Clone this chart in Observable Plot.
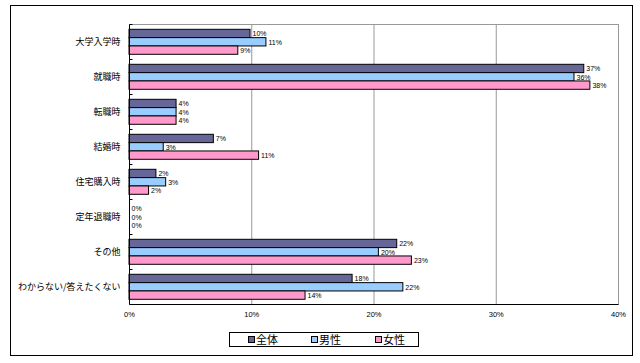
<!DOCTYPE html>
<html><head><meta charset="utf-8">
<script src="https://cdn.jsdelivr.net/npm/d3@7"></script>
<script src="https://cdn.jsdelivr.net/npm/@observablehq/plot@0.6"></script>
<style>
body{margin:0;background:#fff;}
#wrap{position:relative;width:640px;height:363px;font-family:"Noto Sans CJK JP","Noto Sans",sans-serif;}
#border{position:absolute;left:10px;top:5px;width:621px;height:349px;border:1px solid #000;}
#chart{position:absolute;left:0;top:0;}
#legend{position:absolute;left:229px;top:332px;width:188px;height:13px;border:1px solid #000;background:#fff;font-size:11px;line-height:13px;}
#legend .item{position:absolute;top:0;display:flex;align-items:center;height:13px;}
#legend .sw{width:5px;height:5px;border:1px solid #000;margin-right:1px;}
</style></head><body>
<div id="wrap"><div id="border"></div><div id="chart"></div><div id="legend"></div></div>
<script>
const categories = ["大学入学時","就職時","転職時","結婚時","住宅購入時","定年退職時","その他","わからない/答えたくない"];
const seriesNames = ["全体","男性","女性"];
const totalValues  = [9.9, 37.2, 3.85, 6.9, 2.2, 0, 21.9, 18.25];
const maleValues   = [11.2, 36.4, 3.85, 2.8, 3.0, 0, 20.4, 22.4];
const femaleValues = [8.9, 37.7, 3.85, 10.6, 1.6, 0, 23.1, 14.4];
const seriesColors = ["#666699", "#99CCFF", "#FF99CC"];
const xTicks = [0, 10, 20, 30, 40];

const seriesValues = [totalValues, maleValues, femaleValues];
const data = categories.flatMap((c, i) => seriesNames.map((s, j) => ({category: c, series: s, value: seriesValues[j][i]})));

const bandH = 35, padTop = 5.3, barH = 8.33;
const smallFont = '"Liberation Sans", Arial, sans-serif';

const barMarks = seriesNames.flatMap((s, j) => [
  Plot.barX(data, {
    filter: d => d.series === s && d.value > 0,
    x: "value", y: "category", fill: "series", stroke: "#000", strokeWidth: 1,
    insetTop: padTop + j * barH,
    insetBottom: bandH - padTop - (j + 1) * barH
  }),
  Plot.text(data, {
    filter: d => d.series === s,
    x: "value", y: "category",
    dy: padTop + (j + 0.5) * barH - bandH / 2,
    dx: 2, textAnchor: "start",
    text: d => Math.round(d.value) + "%",
    fontSize: 7, fontFamily: smallFont, fill: "#000"
  })
]);

const axes = (index, {x, y}) => {
  const g = d3.create("svg:g").attr("transform", "translate(0.5,0.5)").attr("stroke", "#000").attr("fill", "none");
  const bw = y.bandwidth();
  const x0 = Math.round(x(0));
  const yTop = Math.round(y(categories[0]));
  const yBot = Math.round(y(categories[categories.length - 1]) + bw);
  g.append("line").attr("x1", x0).attr("x2", x0).attr("y1", yTop).attr("y2", yBot);
  g.append("line").attr("x1", x0).attr("x2", Math.round(x(xTicks[xTicks.length - 1]))).attr("y1", yBot).attr("y2", yBot);
  categories.forEach(c => {
    const yy = Math.round(y(c));
    g.append("line").attr("x1", x0).attr("x2", x0 + 3).attr("y1", yy).attr("y2", yy);
  });
  return g.node();
};

const chart = Plot.plot({
  width: 640, height: 363,
  marginLeft: 129, marginRight: 22, marginTop: 24, marginBottom: 59,
  style: {background: "transparent", fontFamily: '"Noto Sans CJK JP","Noto Sans",sans-serif', overflow: "visible"},
  x: {domain: [xTicks[0], xTicks[xTicks.length - 1]], axis: null},
  y: {domain: categories, padding: 0, axis: null},
  color: {domain: seriesNames, range: seriesColors},
  marks: [
    Plot.frame({stroke: "#999"}),
    Plot.ruleX(xTicks.slice(1), {stroke: "#999", strokeWidth: 1}),
    ...barMarks,
    axes,
    Plot.text(categories, {y: d => d, frameAnchor: "left", dx: -9, textAnchor: "end", fontSize: 9, fill: "#000", letterSpacing: "-0.3px"}),
    Plot.text(xTicks, {x: d => d, frameAnchor: "bottom", dy: 12, text: d => d + "%", fontSize: 7.5, fontFamily: smallFont, fill: "#000"})
  ]
});
document.getElementById("chart").appendChild(chart);

const legend = document.getElementById("legend");
const legendLefts = [18, 81, 145];
seriesNames.forEach((s, j) => {
  const it = document.createElement("div");
  it.className = "item";
  it.style.left = legendLefts[j] + "px";
  it.innerHTML = `<span class="sw" style="background:${seriesColors[j]}"></span><span>${s}</span>`;
  legend.appendChild(it);
});
</script>
</body></html>
